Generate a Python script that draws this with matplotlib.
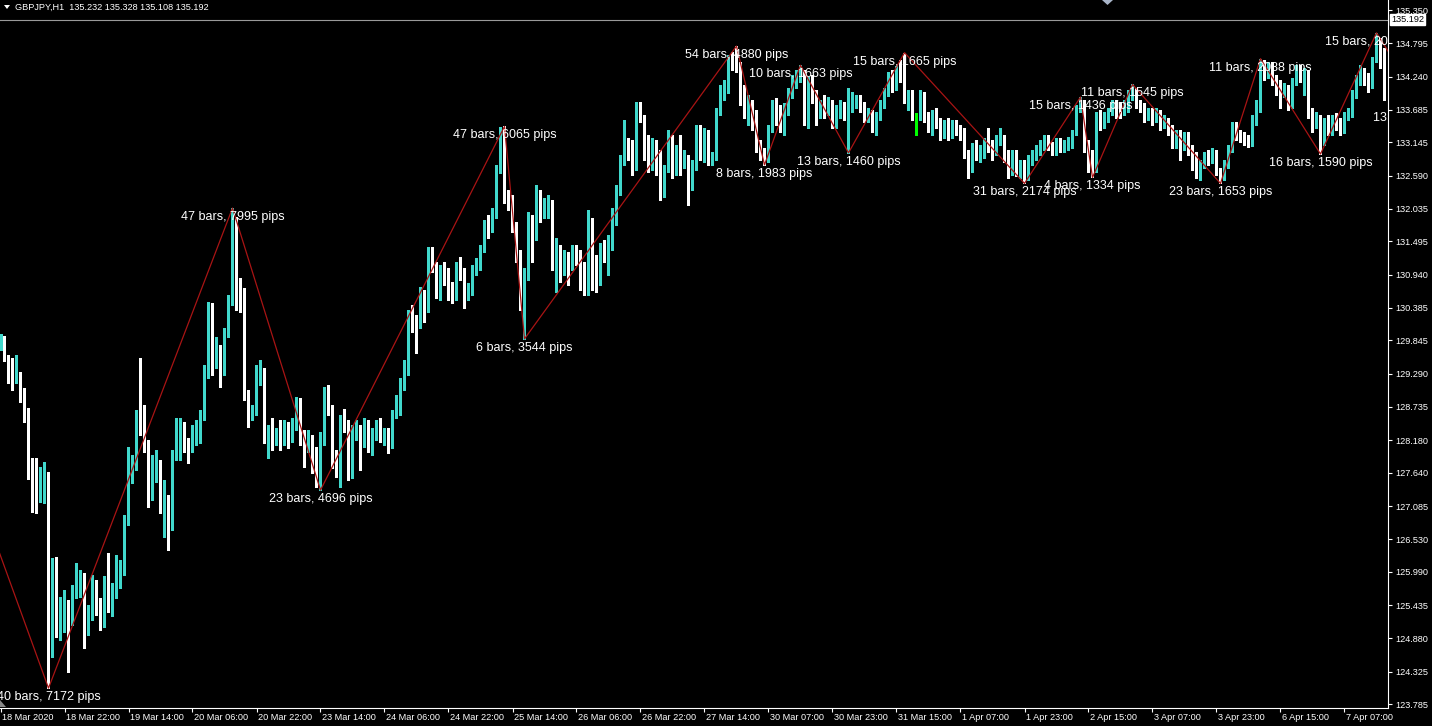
import numpy as np
import matplotlib
matplotlib.use("Agg")
import matplotlib.pyplot as plt
import matplotlib.transforms as mtransforms
from matplotlib.patches import Polygon

W, H = 1432, 726

HEADER = "GBPJPY,H1  135.232 135.328 135.108 135.192"
BID = 135.192

# hourly bars, 18 Mar 2020 06:00 onwards; open of each bar = previous close
FIRST_OPEN = 129.74
CLOSE = [
    129.90, 129.54, 129.44, 129.17, 129.27, 128.97, 128.69, 127.85, 127.47, 127.27,
    127.39, 127.54, 125.10, 126.15, 125.10, 125.15, 125.37, 125.25, 125.70, 125.77,
    125.84, 124.99, 125.24, 125.70, 125.39, 125.14, 125.80, 125.37, 125.64, 125.82,
    126.05, 126.82, 127.57, 127.74, 128.55, 128.32, 128.07, 127.49, 127.60, 127.75,
    127.07, 127.14, 126.74, 127.90, 128.14, 128.30, 128.07, 128.05, 128.24, 128.27,
    128.60, 129.32, 130.40, 129.59, 129.64, 129.32, 129.99, 130.49, 131.65, 130.64,
    130.55, 128.94, 128.59, 128.65, 129.20, 129.32, 128.19, 128.24, 128.20, 128.30,
    128.22, 128.42, 128.24, 128.40, 128.79, 128.24, 128.07, 128.15, 127.97, 127.52,
    128.19, 128.99, 128.69, 127.90, 127.64, 128.49, 128.40, 127.65, 128.30, 128.34,
    128.19, 128.47, 128.05, 128.27, 128.44, 128.24, 128.30, 128.12, 128.60, 128.65,
    129.14, 129.32, 130.19, 130.15, 130.14, 130.60, 130.39, 131.29, 131.07, 130.64,
    130.99, 130.92, 130.69, 130.57, 131.04, 130.99, 130.57, 130.69, 130.99, 131.10,
    131.37, 131.75, 131.72, 131.94, 132.69, 133.37, 132.19, 132.17, 131.74, 131.24,
    130.49, 130.99, 131.85, 131.57, 132.15, 131.99, 132.02, 132.12, 131.15, 131.30,
    131.02, 131.22, 131.09, 131.25, 131.22, 131.05, 130.65, 131.80, 131.14, 131.10,
    131.30, 131.24, 131.44, 131.82, 132.35, 132.82, 133.20, 132.99, 132.74, 133.74,
    133.57, 132.99, 132.90, 133.05, 132.94, 132.32, 132.72, 133.19, 132.72, 133.02,
    132.77, 132.89, 132.40, 132.74, 133.35, 132.94, 133.27, 132.80, 132.90, 133.65,
    134.02, 134.04, 134.52, 134.44, 134.40, 133.85, 133.65, 133.77, 133.47, 133.05,
    132.97, 132.85, 133.37, 133.74, 133.65, 133.49, 133.69, 133.97, 134.15, 134.25,
    134.30, 133.49, 134.19, 133.89, 133.65, 133.74, 133.69, 133.79, 133.49, 133.65,
    133.74, 133.62, 133.74, 133.80, 133.90, 133.74, 133.55, 133.64, 133.40, 133.57,
    133.77, 133.97, 134.22, 134.07, 134.32, 134.24, 133.85, 133.92, 133.55, 133.55,
    133.94, 133.55, 133.40, 133.60, 133.47, 133.32, 133.44, 133.30, 133.42, 133.35,
    133.30, 132.94, 132.72, 133.05, 132.94, 132.97, 133.14, 133.05, 132.97, 133.19,
    133.22, 132.85, 132.64, 132.94, 132.64, 132.74, 132.60, 132.85, 132.90, 133.02,
    133.07, 133.14, 133.07, 132.99, 133.14, 133.05, 133.09, 133.14, 133.30, 133.69,
    133.82, 133.05, 132.74, 132.69, 133.55, 133.47, 133.57, 133.64, 133.77, 133.69,
    133.65, 133.72, 133.97, 133.99, 133.77, 133.72, 133.57, 133.65, 133.55, 133.64,
    133.44, 133.52, 133.35, 133.14, 133.27, 133.14, 133.24, 133.02, 132.90, 132.64,
    132.77, 132.90, 132.85, 132.94, 132.65, 132.55, 132.77, 133.02, 133.39, 133.27,
    133.22, 133.19, 133.14, 133.49, 133.69, 134.49, 134.32, 134.39, 134.19, 134.05,
    133.99, 134.02, 133.77, 134.14, 134.35, 134.22, 134.30, 133.64, 133.47, 133.55,
    133.19, 133.47, 133.35, 133.52, 133.44, 133.35, 133.55, 133.64, 133.94, 134.14,
    134.32, 134.22, 134.10, 134.52, 134.80, 134.60, 134.05,
]
HIGH = [
    129.95, 129.92, 129.60, 129.55, 129.60, 129.32, 129.05, 128.72, 127.89, 127.89,
    127.74, 127.82, 127.65, 126.22, 126.24, 125.57, 125.69, 125.52, 125.77, 126.14,
    126.02, 125.97, 125.44, 125.94, 125.85, 125.55, 125.92, 126.30, 125.80, 126.27,
    126.19, 126.94, 128.07, 127.94, 128.69, 129.55, 128.77, 128.19, 127.94, 128.02,
    127.85, 127.52, 127.27, 128.02, 128.55, 128.55, 128.49, 128.22, 128.44, 128.52,
    128.69, 129.44, 130.49, 130.47, 129.90, 129.77, 130.05, 130.60, 132.05, 131.90,
    130.89, 130.72, 129.02, 128.77, 129.44, 129.52, 129.39, 128.44, 128.55, 128.39,
    128.52, 128.52, 128.49, 128.55, 128.90, 128.89, 128.35, 128.35, 128.27, 128.07,
    128.32, 129.07, 129.10, 128.77, 128.02, 128.60, 128.70, 128.52, 128.44, 128.52,
    128.44, 128.55, 128.52, 128.39, 128.52, 128.55, 128.39, 128.39, 128.69, 128.94,
    129.22, 129.52, 130.35, 130.44, 130.27, 130.74, 130.69, 131.40, 131.40, 131.15,
    131.10, 131.15, 131.05, 130.82, 131.15, 131.24, 131.05, 130.80, 131.10, 131.22,
    131.44, 131.85, 131.94, 132.05, 132.77, 133.40, 133.41, 132.35, 132.27, 131.82,
    131.35, 131.05, 131.99, 131.94, 132.44, 132.35, 132.22, 132.27, 132.19, 131.55,
    131.44, 131.35, 131.32, 131.44, 131.44, 131.35, 131.15, 132.02, 131.89, 131.27,
    131.47, 131.52, 131.60, 132.05, 132.44, 132.94, 133.52, 133.22, 133.19, 133.82,
    133.82, 133.60, 133.27, 133.22, 133.19, 133.02, 132.77, 133.35, 133.27, 133.10,
    133.27, 133.02, 132.94, 132.85, 133.44, 133.44, 133.39, 133.35, 132.99, 133.72,
    134.10, 134.19, 134.60, 134.65, 134.75, 134.49, 134.10, 133.94, 133.85, 133.69,
    133.19, 133.05, 133.44, 133.85, 133.89, 133.77, 133.80, 134.05, 134.27, 134.35,
    134.43, 134.35, 134.24, 134.27, 134.02, 133.85, 133.94, 133.90, 133.85, 133.77,
    133.85, 133.82, 134.05, 133.99, 133.94, 133.94, 133.82, 133.72, 133.69, 133.65,
    133.85, 134.05, 134.32, 134.35, 134.42, 134.52, 134.64, 134.02, 134.02, 133.64,
    134.02, 133.99, 133.65, 133.69, 133.72, 133.55, 133.52, 133.55, 133.52, 133.52,
    133.44, 133.39, 133.02, 133.14, 133.19, 133.10, 133.22, 133.39, 133.19, 133.27,
    133.39, 133.27, 133.02, 133.02, 133.02, 132.85, 132.85, 132.94, 133.02, 133.10,
    133.19, 133.27, 133.27, 133.15, 133.22, 133.22, 133.19, 133.24, 133.35, 133.77,
    133.90, 133.85, 133.19, 133.02, 133.65, 133.69, 133.65, 133.72, 133.85, 133.85,
    133.82, 133.85, 134.02, 134.11, 134.05, 133.85, 133.80, 133.72, 133.72, 133.72,
    133.69, 133.60, 133.55, 133.44, 133.35, 133.35, 133.32, 133.32, 133.10, 132.99,
    132.85, 132.99, 133.02, 133.05, 133.02, 132.72, 132.85, 133.10, 133.49, 133.49,
    133.35, 133.32, 133.27, 133.60, 133.85, 134.54, 134.52, 134.49, 134.49, 134.27,
    134.19, 134.14, 134.10, 134.22, 134.44, 134.44, 134.39, 134.35, 133.72, 133.65,
    133.60, 133.55, 133.60, 133.60, 133.64, 133.55, 133.65, 133.72, 134.02, 134.27,
    134.44, 134.39, 134.30, 134.57, 134.97, 134.89, 134.72,
]
LOW = [
    129.69, 129.50, 129.14, 129.02, 129.14, 128.82, 128.49, 127.54, 126.99, 126.97,
    127.15, 127.14, 124.05, 124.57, 124.90, 124.85, 124.99, 124.32, 125.10, 125.55,
    125.57, 124.72, 124.94, 125.19, 125.27, 125.02, 125.07, 125.32, 125.25, 125.55,
    125.72, 125.94, 126.77, 127.47, 127.69, 128.27, 127.99, 127.07, 127.19, 127.49,
    126.97, 126.57, 126.35, 126.69, 127.85, 127.85, 127.99, 127.80, 127.99, 128.10,
    128.14, 128.52, 129.22, 129.27, 129.39, 129.07, 129.27, 129.90, 130.44, 130.35,
    130.32, 128.85, 128.40, 128.52, 128.60, 129.10, 128.14, 127.89, 128.02, 128.10,
    128.02, 128.10, 128.05, 128.15, 128.35, 128.10, 127.74, 127.99, 127.64, 127.40,
    127.35, 128.10, 128.60, 127.72, 127.57, 127.40, 128.32, 127.52, 127.55, 128.19,
    127.69, 128.07, 127.99, 127.94, 128.19, 128.15, 128.10, 127.97, 128.05, 128.55,
    128.60, 129.02, 129.27, 129.99, 129.64, 130.05, 130.15, 130.32, 130.99, 130.55,
    130.52, 130.77, 130.52, 130.47, 130.52, 130.85, 130.39, 130.52, 130.60, 130.94,
    131.02, 131.32, 131.55, 131.65, 131.89, 132.64, 132.14, 132.02, 131.65, 131.15,
    130.35, 129.87, 130.85, 131.15, 131.52, 131.82, 131.89, 131.89, 131.02, 130.65,
    130.82, 130.94, 130.77, 131.02, 131.10, 130.69, 130.60, 130.60, 130.69, 130.65,
    130.77, 131.15, 130.94, 131.35, 131.77, 132.27, 132.77, 132.85, 132.60, 132.69,
    133.49, 132.85, 132.65, 132.69, 132.60, 132.19, 132.24, 132.65, 132.55, 132.60,
    132.60, 132.72, 132.10, 132.35, 132.69, 132.85, 132.82, 132.77, 132.77, 132.85,
    133.60, 133.85, 133.97, 134.35, 134.32, 133.77, 133.55, 133.44, 133.35, 132.99,
    132.85, 132.77, 132.82, 133.32, 133.44, 133.32, 133.27, 133.60, 133.89, 134.05,
    134.15, 133.44, 133.39, 133.80, 133.44, 133.55, 133.55, 133.60, 133.39, 133.39,
    133.55, 133.52, 132.97, 133.65, 133.72, 133.65, 133.49, 133.49, 133.32, 133.27,
    133.52, 133.72, 133.92, 133.99, 134.02, 134.15, 133.80, 133.69, 133.52, 133.27,
    133.52, 133.49, 133.32, 133.27, 133.39, 133.19, 133.22, 133.19, 133.22, 133.27,
    133.19, 132.89, 132.55, 132.65, 132.85, 132.82, 132.89, 132.99, 132.85, 132.94,
    133.10, 132.82, 132.55, 132.60, 132.59, 132.55, 132.46, 132.52, 132.77, 132.85,
    132.94, 133.02, 133.02, 132.94, 132.94, 132.99, 132.99, 133.02, 133.05, 133.27,
    133.65, 132.99, 132.65, 132.56, 132.65, 133.35, 133.39, 133.49, 133.60, 133.55,
    133.55, 133.60, 133.65, 133.85, 133.72, 133.65, 133.49, 133.52, 133.44, 133.49,
    133.35, 133.39, 133.27, 133.05, 133.05, 132.85, 133.02, 132.94, 132.69, 132.55,
    132.52, 132.72, 132.77, 132.80, 132.60, 132.46, 132.52, 132.72, 132.99, 133.19,
    133.15, 133.10, 133.07, 133.09, 133.44, 133.65, 134.19, 134.22, 134.10, 133.94,
    133.72, 133.90, 133.69, 133.72, 134.10, 134.15, 133.94, 133.55, 133.32, 133.39,
    132.95, 133.10, 133.27, 133.27, 133.35, 133.27, 133.30, 133.52, 133.57, 133.89,
    134.10, 134.10, 133.99, 134.05, 134.49, 134.39, 133.85,
]

# zigzag pivots (bar index, price, label)
PIVOT_BARS = [-27, 12, 58, 80, 126, 131, 184, 191, 200, 212, 226, 256, 270, 273, 283, 305, 315, 330, 344, 356]
PIVOT_PRICES = [131.22, 124.05, 132.05, 127.35, 133.41, 129.87, 134.75, 132.77, 134.43, 132.97,
                134.64, 132.46, 133.90, 132.56, 134.11, 132.46, 134.54, 132.95, 134.97, 133.70]
PIVOT_LABELS = ["", "40 bars, 7172 pips", "47 bars, 7995 pips", "23 bars, 4696 pips",
                "47 bars, 6065 pips", "6 bars, 3544 pips", "54 bars, 4880 pips",
                "8 bars, 1983 pips", "10 bars, 1663 pips", "13 bars, 1460 pips",
                "15 bars, 1665 pips", "31 bars, 2174 pips", "15 bars, 1436 pips",
                "4 bars, 1334 pips", "11 bars, 1545 pips", "23 bars, 1653 pips",
                "11 bars, 2088 pips", "16 bars, 1590 pips", "15 bars, 2017 pips",
                "13 bars, 1270 pips"]

TIME_TICKS = [0, 16, 32, 48, 64, 80, 96, 112, 128, 144, 160, 176, 192, 208, 224, 240,
              256, 272, 288, 304, 320, 336]
TIME_LABELS = ["18 Mar 2020", "18 Mar 22:00", "19 Mar 14:00", "20 Mar 06:00", "20 Mar 22:00",
               "23 Mar 14:00", "24 Mar 06:00", "24 Mar 22:00", "25 Mar 14:00", "26 Mar 06:00",
               "26 Mar 22:00", "27 Mar 14:00", "30 Mar 07:00", "30 Mar 23:00", "31 Mar 15:00",
               "1 Apr 07:00", "1 Apr 23:00", "2 Apr 15:00", "3 Apr 07:00", "3 Apr 23:00",
               "6 Apr 15:00", "7 Apr 07:00"]
PRICE_TICKS = [135.350, 134.795, 134.240, 133.685, 133.145, 132.590, 132.035, 131.495,
               130.940, 130.385, 129.845, 129.290, 128.735, 128.180, 127.640, 127.085,
               126.530, 125.990, 125.435, 124.880, 124.325, 123.785]

UP = "#40D8CC"
DOWN = "#FFFFFF"
DOJI = "#00FF00"
ZZ = "#A81414"
FONT = "Liberation Sans"


def px(x, y):
    return (x / W, 1 - y / H)


fig = plt.figure(figsize=(W / 100, H / 100), dpi=100, facecolor="black")
ax = fig.add_axes([0, 18 / H, 1388 / W, 708 / H], facecolor="black")

close = np.array(CLOSE)
opn = np.concatenate([[FIRST_OPEN], close[:-1]])
high = np.array(HIGH)
low = np.array(LOW)
x = np.arange(len(close))

colors = np.where(close > opn + 0.004, UP, np.where(close < opn - 0.004, DOWN, DOJI))
ax.vlines(x, low, high, colors=colors, linewidth=0.8, antialiased=False, zorder=2)
body_lo = np.minimum(opn, close)
body_h = np.maximum(np.abs(close - opn), 0.017)
ax.bar(x, body_h, bottom=body_lo, width=0.72, color=colors, linewidth=0, antialiased=False, zorder=3)

ax.axhline(BID, color="#9A9A9A", linewidth=0.8, zorder=1)

ax.plot(PIVOT_BARS, PIVOT_PRICES, color=ZZ, linewidth=0.9, zorder=4)
down9 = mtransforms.ScaledTranslation(0, -9 / 100, fig.dpi_scale_trans)
for b, p, lab in zip(PIVOT_BARS, PIVOT_PRICES, PIVOT_LABELS):
    if lab:
        ax.text(b, p, lab, transform=ax.transData + down9, ha="center", va="center",
                color="white", fontsize=9, family=FONT, clip_on=True, zorder=5)

ax.set_xlim(-0.125, 346.875)
ax.set_ylim(123.719, 135.517)

for s in ["top", "left"]:
    ax.spines[s].set_visible(False)
for s in ["right", "bottom"]:
    ax.spines[s].set_color("white")
    ax.spines[s].set_linewidth(0.8)

ax.yaxis.tick_right()
ax.set_yticks(PRICE_TICKS)
ax.set_yticklabels([f"{v:.3f}" for v in PRICE_TICKS], family=FONT)
ax.tick_params(axis="y", colors="white", labelsize=6.6, length=3, width=0.8, pad=2)
ax.set_xticks(TIME_TICKS)
ax.set_xticklabels(TIME_LABELS, family=FONT)
ax.tick_params(axis="x", colors="white", labelsize=6.6, length=3, width=0.8, pad=0.8)
shift = mtransforms.ScaledTranslation(2 / 100, 0, fig.dpi_scale_trans)
for lbl in ax.get_xticklabels():
    lbl.set_ha("left")
    lbl.set_transform(lbl.get_transform() + shift)

# bid price box on the price scale
ax.text(1.0, BID, f"{BID:.3f}", transform=mtransforms.blended_transform_factory(ax.transAxes, ax.transData)
        + mtransforms.ScaledTranslation(3 / 100, 0, fig.dpi_scale_trans),
        ha="left", va="center", color="black", fontsize=6.6, family=FONT, clip_on=False,
        bbox=dict(boxstyle="square,pad=0.15", facecolor="white", edgecolor="white"))

# header and small markers
fig.text(15 / W, 1 - 7.5 / H, HEADER, color="white", fontsize=6.6, family=FONT, va="center")
fig.patches.append(Polygon([px(4, 5), px(10, 5), px(7, 9)], closed=True, transform=fig.transFigure,
                           facecolor="white", edgecolor="none"))
fig.patches.append(Polygon([px(1102, 0), px(1113, 0), px(1107.5, 5)], closed=True, transform=fig.transFigure,
                           facecolor="#A8B4C8", edgecolor="none"))
fig.patches.append(Polygon([px(0, 700), px(0, 707), px(6, 707)], closed=True, transform=fig.transFigure,
                           facecolor="#888888", edgecolor="none"))

fig.savefig("out.png", dpi=100, facecolor="black")
